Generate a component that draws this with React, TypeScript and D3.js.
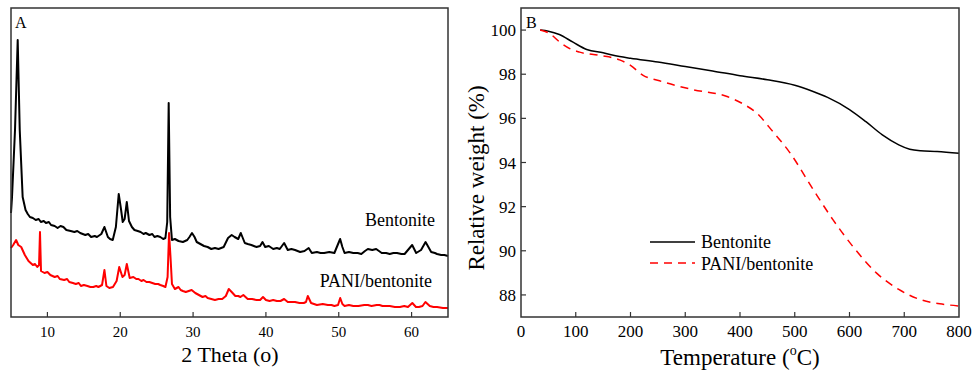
import React from "react";
import * as d3 from "d3";

// XRD patterns (2 theta, intensity a.u.)
const bentoniteXrd: [number, number][] = [
  [5.0, 104], [5.14, 120], [5.55, 187], [5.92, 277], [6.2, 187], [6.6, 120], [7.0, 107],
  [7.3, 103], [7.6, 100], [8.0, 99], [8.4, 97], [8.8, 98], [9.1, 95], [9.5, 96], [9.8, 94],
  [10.2, 95], [10.5, 92], [11.0, 91], [11.4, 89], [11.8, 91], [12.2, 90], [12.6, 87],
  [13.2, 86], [13.7, 85], [14.1, 86], [14.5, 84], [15.2, 82], [15.6, 83], [16.0, 80],
  [16.5, 81], [16.8, 80], [17.4, 83], [17.83, 90], [18.3, 80], [18.6, 78], [18.97, 77],
  [19.4, 90], [19.79, 123], [20.1, 108], [20.34, 95], [20.6, 98], [20.9, 115], [21.2, 96],
  [21.6, 90], [21.95, 87], [22.4, 86], [22.8, 85], [23.2, 83], [23.5, 84], [24.0, 82],
  [24.4, 83], [24.7, 80], [25.1, 81], [25.5, 80], [25.9, 78], [26.2, 79], [26.45, 95],
  [26.65, 214], [26.85, 100], [27.1, 77], [27.5, 78], [28.0, 76], [28.6, 75], [29.2, 77],
  [29.5, 80], [29.85, 84], [30.2, 80], [30.5, 75], [31.0, 73], [31.5, 71], [32.0, 70],
  [32.5, 68], [33.0, 69], [33.5, 68], [34.2, 70], [34.8, 79], [35.3, 82], [35.7, 80],
  [36.2, 78], [36.55, 84], [37.1, 74], [37.5, 73], [38.0, 72], [38.7, 70], [39.2, 71],
  [39.53, 75], [39.9, 70], [40.4, 71], [41.0, 68], [41.5, 69], [41.9, 68], [42.5, 74],
  [43.0, 67], [43.5, 68], [44.0, 67], [44.7, 65], [45.3, 66], [45.87, 69], [46.3, 64],
  [47.0, 65], [47.5, 64], [48.0, 64], [48.7, 65], [49.4, 64], [50.19, 78], [50.5, 70],
  [50.8, 64], [51.4, 65], [52.0, 64], [52.6, 64], [53.1, 63], [53.6, 66], [54.0, 68],
  [54.6, 67], [55.14, 68], [55.9, 64], [56.5, 64], [57.0, 63], [57.5, 64], [58.0, 64],
  [58.6, 63], [59.04, 63], [60.08, 72], [60.63, 64], [61.3, 67], [61.92, 75], [62.69, 65],
  [63.2, 64], [63.5, 63], [64.06, 62], [64.5, 62], [65.0, 61],
];

const paniXrd: [number, number][] = [
  [5.0, 69], [5.3, 72], [5.7, 77], [6.0, 72], [6.4, 70], [6.9, 62], [7.4, 56], [8.0, 52],
  [8.3, 53], [8.6, 50], [8.85, 52], [8.98, 85], [9.12, 46], [9.6, 44], [10.0, 45],
  [10.4, 42], [11.0, 40], [11.4, 41], [11.7, 38], [12.3, 37], [12.7, 38], [13.0, 35],
  [13.5, 34], [13.9, 33], [14.3, 34], [14.6, 31], [15.0, 32], [15.5, 31], [15.9, 30],
  [16.3, 30], [16.7, 31], [17.0, 30], [17.5, 32], [17.83, 47], [18.1, 31], [18.5, 29],
  [19.0, 30], [19.5, 36], [19.86, 50], [20.3, 40], [20.6, 42], [20.9, 53], [21.3, 39],
  [21.8, 40], [22.2, 38], [22.5, 38], [22.9, 36], [23.2, 37], [23.6, 35], [24.0, 35],
  [24.4, 34], [24.8, 33], [25.2, 33], [25.5, 32], [25.9, 31], [26.2, 30], [26.5, 40],
  [26.7, 84], [26.9, 60], [27.1, 33], [27.5, 28], [28.0, 30], [28.3, 27], [28.6, 26],
  [29.0, 25], [29.4, 26], [29.8, 27], [30.3, 24], [30.8, 22], [31.3, 20], [31.7, 21],
  [32.0, 19], [32.5, 18], [33.0, 17], [33.5, 18], [34.0, 18], [34.5, 21], [34.9, 28],
  [35.3, 25], [35.8, 21], [36.2, 21], [36.5, 20], [36.9, 22], [37.5, 18], [38.1, 18],
  [38.7, 17], [39.2, 17], [39.6, 20], [40.0, 17], [40.5, 16], [41.0, 17], [41.5, 16],
  [42.0, 16], [42.5, 18], [43.0, 15], [43.5, 15], [44.0, 15], [44.6, 14], [45.2, 14],
  [45.5, 15], [45.75, 21], [46.2, 14], [46.6, 13], [47.0, 12], [47.8, 13], [48.5, 12],
  [49.0, 12], [49.4, 11], [49.9, 12], [50.2, 19], [50.5, 13], [50.8, 11], [51.4, 12],
  [52.0, 11], [52.7, 11], [53.5, 12], [54.0, 12], [54.5, 11], [55.2, 12], [55.6, 12],
  [56.0, 11], [56.5, 11], [57.0, 11], [57.7, 10], [58.4, 10], [59.0, 11], [59.5, 10],
  [60.1, 14], [60.6, 10], [61.0, 10], [61.5, 11], [61.9, 15], [62.5, 11], [63.0, 10],
  [63.5, 10], [64.3, 9], [65.0, 9],
];

// TGA curves (temperature degC, relative weight %)
const bentoniteTga: [number, number][] = [
  [35, 100], [50, 99.95], [70, 99.8], [95, 99.45], [120, 99.12], [150, 98.97],
  [180, 98.8], [200, 98.72], [250, 98.55], [300, 98.35], [350, 98.15], [400, 97.93],
  [450, 97.75], [500, 97.5], [530, 97.25], [560, 96.95], [600, 96.4], [630, 95.85],
  [660, 95.25], [690, 94.8], [710, 94.6], [730, 94.53], [760, 94.5], [800, 94.42],
];

const paniTga: [number, number][] = [
  [35, 100], [52, 99.85], [71, 99.45], [90, 99.15], [107, 99.0], [144, 98.85],
  [180, 98.65], [200, 98.4], [223, 97.95], [253, 97.7], [314, 97.3], [375, 97.0],
  [406, 96.65], [430, 96.25], [460, 95.4], [491, 94.45], [533, 92.8], [570, 91.4],
  [606, 90.2], [649, 89.0], [690, 88.25], [728, 87.8], [765, 87.6], [800, 87.5],
];

const xrdTicks = [10, 20, 30, 40, 50, 60];
const tempTicks = [0, 100, 200, 300, 400, 500, 600, 700, 800];
const weightTicks = [88, 90, 92, 94, 96, 98, 100];

const FONT = "Liberation Serif, Times New Roman, DejaVu Serif, serif";
const AXIS = "#333";

export default function App() {
  // panel A
  const ax = d3.scaleLinear().domain([5, 65]).range([11, 448]);
  const ay = d3.scaleLinear().domain([0, 309]).range([317, 8]);
  const xrdLine = d3.line<[number, number]>().x(d => ax(d[0])).y(d => ay(d[1]));

  // panel B
  const bx = d3.scaleLinear().domain([0, 800]).range([521, 959]);
  const by = d3.scaleLinear().domain([87, 101]).range([317, 8]);
  const tgaLine = d3.line<[number, number]>()
    .x(d => bx(d[0])).y(d => by(d[1])).curve(d3.curveMonotoneX);

  return (
    <svg width={973} height={376}
      style={{ position: "absolute", left: 0, top: 0, background: "#fff", fontFamily: FONT }}>
      {/* ---- Panel A ---- */}
      <path d={xrdLine(bentoniteXrd) || ""} fill="none" stroke="#000" strokeWidth={2} strokeLinejoin="round" />
      <path d={xrdLine(paniXrd) || ""} fill="none" stroke="#ff0000" strokeWidth={2} strokeLinejoin="round" />
      <rect x={11} y={8} width={437} height={309} fill="none" stroke={AXIS} strokeWidth={1.5} />
      {xrdTicks.map(t => (
        <g key={t}>
          <line x1={ax(t)} x2={ax(t)} y1={317} y2={312} stroke={AXIS} strokeWidth={1.2} />
          <text x={ax(t)} y={337} textAnchor="middle" fontSize={15}>{t}</text>
        </g>
      ))}
      <text x={15} y={28} fontSize={16}>A</text>
      <text x={435} y={226} textAnchor="end" fontSize={18}>Bentonite</text>
      <text x={432} y={287} textAnchor="end" fontSize={18}>PANI/bentonite</text>
      <text x={230} y={362} textAnchor="middle" fontSize={22}>2 Theta (o)</text>

      {/* ---- Panel B ---- */}
      <path d={tgaLine(bentoniteTga) || ""} fill="none" stroke="#000" strokeWidth={1.5} />
      <path d={tgaLine(paniTga) || ""} fill="none" stroke="#ff0000" strokeWidth={1.5} strokeDasharray="8,6" />
      <rect x={521} y={8} width={438} height={309} fill="none" stroke={AXIS} strokeWidth={1.5} />
      {tempTicks.map(t => (
        <g key={t}>
          {t > 0 && t < 800 && (
            <line x1={bx(t)} x2={bx(t)} y1={317} y2={312} stroke={AXIS} strokeWidth={1.2} />
          )}
          <text x={bx(t)} y={337} textAnchor="middle" fontSize={17}>{t}</text>
        </g>
      ))}
      {weightTicks.map(t => (
        <g key={t}>
          <line x1={521} x2={526} y1={by(t)} y2={by(t)} stroke={AXIS} strokeWidth={1.2} />
          <text x={516} y={by(t) + 6} textAnchor="end" fontSize={17}>{t}</text>
        </g>
      ))}
      <text x={526} y={28} fontSize={16}>B</text>
      <text x={740} y={365} textAnchor="middle" fontSize={23}>
        Temperature (<tspan fontSize={14} dy={-10}>o</tspan><tspan dy={10}>C)</tspan>
      </text>
      <text transform="translate(484,178) rotate(-90)" textAnchor="middle" fontSize={23}>Relative weight (%)</text>

      {/* legend */}
      <line x1={650} x2={695} y1={242} y2={242} stroke="#000" strokeWidth={1.5} />
      <text x={701} y={248} fontSize={18}>Bentonite</text>
      <line x1={650} x2={695} y1={263} y2={263} stroke="#ff0000" strokeWidth={1.5} strokeDasharray="8,6" />
      <text x={701} y={270} fontSize={18}>PANI/bentonite</text>
    </svg>
  );
}
